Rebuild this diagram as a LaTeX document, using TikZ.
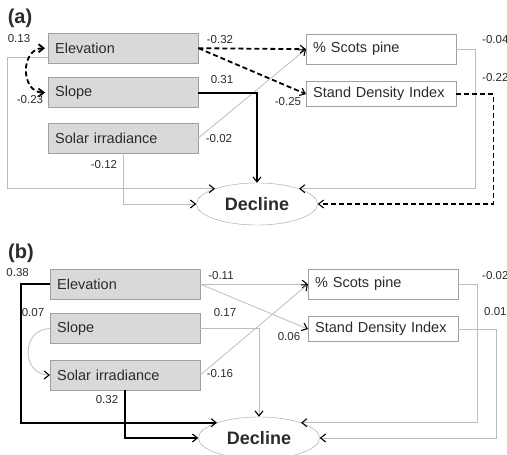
\documentclass[tikz,border=0pt]{standalone}
\usepackage{fontspec}
\setmainfont{Liberation Sans}
\usepackage{tikz}
\usetikzlibrary{arrows.meta, positioning, shapes.geometric}

\definecolor{boxgray}{HTML}{D9D9D9}
\definecolor{edgegray}{HTML}{A0A0A0}
\definecolor{linkgray}{HTML}{BDBDBD}
\definecolor{inkgray}{HTML}{2B2B2B}

\begin{document}
\begin{tikzpicture}[x=1pt, y=-1pt,
    predbox/.style={draw=edgegray, fill=boxgray, text width=136pt, inner xsep=7pt,
      minimum height=30pt, align=left, text=inkgray, font=\fontsize{14.5}{16}\selectfont},
    respbox/.style={draw=edgegray, fill=white, text width=136pt, inner xsep=7pt,
      minimum height=30pt, align=left, text=inkgray, font=\fontsize{14.5}{16}\selectfont},
    outcome/.style={draw=edgegray, fill=white, ellipse, minimum width=121pt, minimum height=42pt,
      inner sep=0pt, text=inkgray, font=\fontsize{18}{20}\selectfont\bfseries},
    panel/.style={text=inkgray, font=\fontsize{20}{22}\selectfont\bfseries},
    coef/.style={inner sep=0pt, text=inkgray, font=\fontsize{11.5}{13}\selectfont},
    tip/.style={-{Straight Barb[length=5pt, width=8pt, line width=1.1pt, color=black]}},
    thinlink/.style={tip, draw=linkgray, line width=0.8pt},
    boldlink/.style={tip, draw=black, line width=1.8pt},
    dashlink/.style={tip, draw=black, line width=1.8pt, dash pattern=on 5pt off 3pt}]

  \useasboundingbox (0,0) rectangle (507,455);

  % Panel (a)
  \node[panel] (alab) at (20,18) {(a)};
  \node[predbox, anchor=north west] (aelev) at (48,33) {Elevation};
  \node[predbox, below=14pt of aelev] (aslope) {Slope};
  \node[predbox, below=15pt of aslope] (asolar) {Solar irradiance};
  \node[respbox, anchor=north west] (ascots) at (306,34) {\% Scots pine};
  \node[respbox, minimum height=25pt, below=17pt of ascots] (asdi) {Stand Density Index};
  \node[outcome] (adec) at (257,204) {Decline};

  \draw[thinlink] ([yshift=-9pt]aelev.west) -- ++(-41,0) |- (adec.160);
  \draw[thinlink] (asolar.south) |- (adec.west);
  \draw[thinlink] (asolar.east) -- (ascots.west);
  \draw[thinlink] (ascots.east) -- ++(19,0) |- (adec.20);
  \draw[dashlink, {Straight Barb[length=5pt, width=8pt]}-{Straight Barb[length=5pt, width=8pt]},
    shorten <=3pt, shorten >=3pt] (aelev.west) to[out=180, in=180, looseness=1.6] (aslope.west);
  \draw[dashlink] (aelev.east) -- (ascots.west);
  \draw[dashlink] (aelev.east) -- (asdi.west);
  \draw[boldlink] (aslope.east) -| (adec.north);
  \draw[dashlink] (asdi.east) -- ++(37,0) |- (adec.east);

  \node[coef] (a1) at (19,39) {0.13};
  \node[coef] (a2) at (30,100) {-0.23};
  \node[coef] (a3) at (220,40) {-0.32};
  \node[coef] (a4) at (222,80) {0.31};
  \node[coef] (a5) at (219,139) {-0.02};
  \node[coef] (a6) at (104,165) {-0.12};
  \node[coef] (a7) at (288,102) {-0.25};
  \node[coef, anchor=west] (a8) at (482,40) {-0.04};
  \node[coef, anchor=west] (a9) at (482,78) {-0.22};

  % Panel (b)
  \node[panel] (blab) at (21,253) {(b)};
  \node[predbox, anchor=north west] (belev) at (50,269) {Elevation};
  \node[predbox, below=14pt of belev] (bslope) {Slope};
  \node[predbox, below=16pt of bslope] (bsolar) {Solar irradiance};
  \node[respbox, anchor=north west] (bscots) at (308,269) {\% Scots pine};
  \node[respbox, minimum height=25pt, below=17pt of bscots] (bsdi) {Stand Density Index};
  \node[outcome] (bdec) at (259,438) {Decline};

  \draw[thinlink] (bslope.west) to[out=180, in=180, looseness=1.6] (bsolar.west);
  \draw[thinlink] (belev.east) -- (bscots.west);
  \draw[thinlink] (belev.east) -- (bsdi.west);
  \draw[thinlink] (bslope.east) -| (bdec.north);
  \draw[thinlink] (bsolar.east) -- (bscots.west);
  \draw[thinlink] (bscots.east) -- ++(19,0) |- (bdec.20);
  \draw[thinlink] (bsdi.east) -- ++(38,0) |- (bdec.east);
  \draw[boldlink] (belev.west) -- ++(-29,0) |- (bdec.160);
  \draw[boldlink] (bsolar.south) |- (bdec.west);

  \node[coef, anchor=east] (b1) at (29,273) {0.38};
  \node[coef] (b2) at (33,313) {0.07};
  \node[coef] (b3) at (221,276) {-0.11};
  \node[coef] (b4) at (225,313) {0.17};
  \node[coef] (b5) at (220,374) {-0.16};
  \node[coef] (b6) at (107,400) {0.32};
  \node[coef] (b7) at (289,337) {0.06};
  \node[coef, anchor=west] (b8) at (482,276) {-0.02};
  \node[coef, anchor=west] (b9) at (484,312) {0.01};
\end{tikzpicture}
\end{document}
